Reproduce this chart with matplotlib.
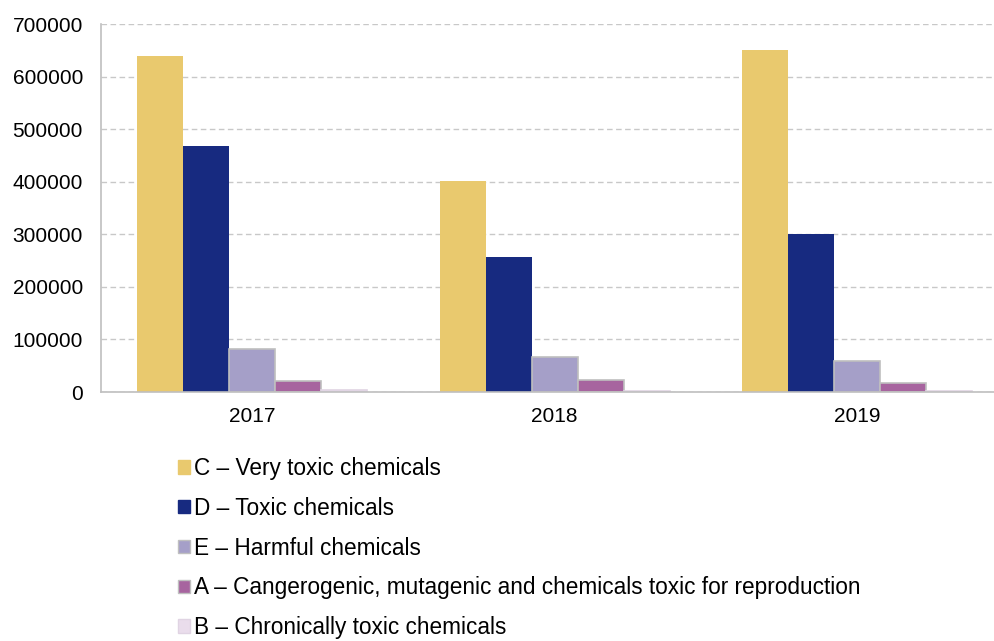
import matplotlib
matplotlib.use("Agg")
import matplotlib.pyplot as plt
from matplotlib.patches import Patch
import numpy as np

plt.rcParams['font.family'] = ['Liberation Sans', 'DejaVu Sans']

years = ["2017", "2018", "2019"]
series_names = [
    "C – Very toxic chemicals",
    "D – Toxic chemicals",
    "E – Harmful chemicals",
    "A – Cangerogenic, mutagenic and chemicals toxic for reproduction",
    "B – Chronically toxic chemicals",
]
c_vals = [640000, 402000, 651000]
d_vals = [468000, 256000, 301000]
e_vals = [81000, 67000, 59000]
a_vals = [20000, 22000, 17000]
b_vals = [3500, 2500, 2000]
values = [c_vals, d_vals, e_vals, a_vals, b_vals]

colors = ["#E9C96E", "#172A80", "#A59FC8", "#A7649F", "#EADDEC"]
edges = ["none", "none", "#BFBFBF", "#BFBFBF", "#E0D4E3"]

fig = plt.figure(figsize=(9.95, 6.41), dpi=100)
W, H = 995, 641
ax = fig.add_axes([101 / W, 1 - 392 / H, (995 - 101) / W, (392 - 24) / H])

x = np.arange(len(years))
bw = 46 / 302.5
n = len(values)
for i, (vals, col, ec) in enumerate(zip(values, colors, edges)):
    off = (i - (n - 1) / 2) * bw
    ax.bar(x + off, vals, width=bw, color=col, edgecolor=ec,
           linewidth=1.2 if ec != "none" else 0, zorder=3)

ax.set_xlim(-0.5, -0.5 + 894 / 302.5)
ax.set_ylim(0, 700000)
ax.set_yticks(np.arange(0, 700001, 100000))
ax.set_xticks(x)
ax.set_xticklabels(years)
ax.tick_params(axis='both', length=0, labelsize=15, colors="#000000")
ax.tick_params(axis='y', pad=13)
ax.tick_params(axis='x', pad=11)
ax.yaxis.grid(True, linestyle=(0, (4, 2.5)), color="#C8C8C8", linewidth=1, zorder=0)
ax.set_axisbelow(True)
for s in ["top", "right"]:
    ax.spines[s].set_visible(False)
for s in ["left", "bottom"]:
    ax.spines[s].set_color("#BFBFBF")
    ax.spines[s].set_linewidth(1.2)
    ax.spines[s].set_zorder(4)

handles = [Patch(facecolor=c, edgecolor=(e if e != "none" else c), linewidth=1)
           for c, e in zip(colors, edges)]
fig.legend(handles, series_names, loc="upper left",
           bbox_to_anchor=(178 / W, 1 - 457 / H), bbox_transform=fig.transFigure,
           frameon=False, fontsize=16.3, handlelength=0.53, handleheight=0.53,
           handletextpad=0.18, labelspacing=0.74, borderpad=0, borderaxespad=0)

fig.savefig("out.png", dpi=100)
